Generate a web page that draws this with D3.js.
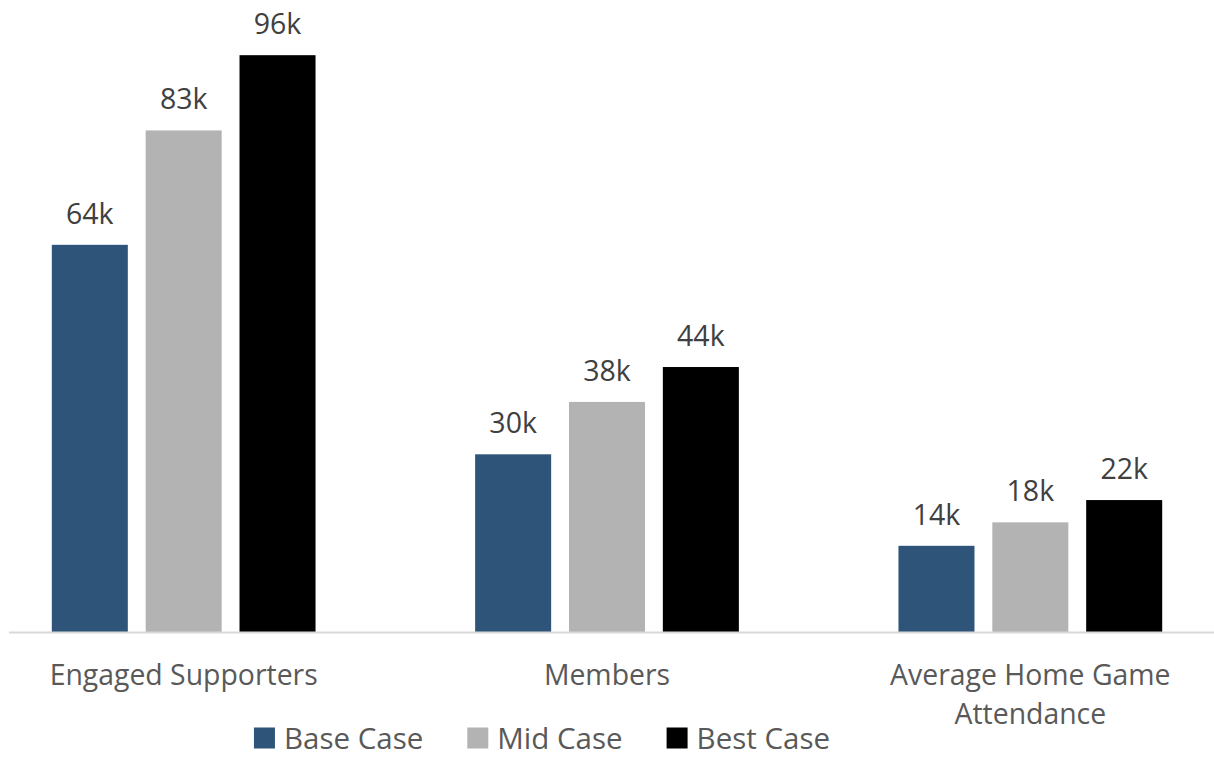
<!DOCTYPE html>
<html>
<head>
<meta charset="utf-8">
<script src="https://cdn.jsdelivr.net/npm/d3@7"></script>
<style>
  body { margin: 0; background: #fff; }
  text { font-family: "Open Sans", sans-serif; }
</style>
</head>
<body>
<div id="chart"></div>
<script>
// Data
const categories = ["Engaged Supporters", "Members", "Average Home Game Attendance"];
const seriesNames = ["Base Case", "Mid Case", "Best Case"];
const baseCase = [64.4, 29.6, 14.4];
const midCase = [83.4, 38.3, 18.3];
const bestCase = [95.9, 44.1, 22.0];
const colors = ["#2f5479", "#b3b3b3", "#000000"];

const seriesValues = [baseCase, midCase, bestCase];
const rows = categories.map((c, i) => ({
    category: c,
    values: seriesNames.map((s, j) => ({ series: s, value: seriesValues[j][i] }))
}));

const width = 1214;
const height = 757;
const baseline = 632.5;

const svg = d3.select("#chart")
    .append("svg")
    .attr("width", width)
    .attr("height", height);

// Scales
const x0 = d3.scaleBand()
    .domain(categories)
    .range([-28, 1242])
    .paddingInner(0.377)
    .paddingOuter(0.1885);

const x1 = d3.scaleBand()
    .domain(seriesNames)
    .range([0, x0.bandwidth()])
    .paddingInner(0.19);

const y = d3.scaleLinear()
    .domain([0, 100])
    .range([baseline, baseline - 602]);

const color = d3.scaleOrdinal().domain(seriesNames).range(colors);

// Bars
const groups = svg.selectAll("g.group")
    .data(rows)
    .join("g")
    .attr("class", "group")
    .attr("transform", d => `translate(${x0(d.category)},0)`);

groups.selectAll("rect")
    .data(d => d.values)
    .join("rect")
    .attr("x", d => x1(d.series))
    .attr("y", d => y(d.value))
    .attr("width", x1.bandwidth())
    .attr("height", d => y(0) - y(d.value))
    .attr("fill", d => color(d.series));

// Value labels
groups.selectAll("text.value")
    .data(d => d.values)
    .join("text")
    .attr("class", "value")
    .attr("x", d => x1(d.series) + x1.bandwidth() / 2)
    .attr("y", d => y(d.value) - 21)
    .attr("text-anchor", "middle")
    .attr("font-size", 28.5)
    .attr("fill", "#404040")
    .text(d => `${Math.round(d.value)}k`);

// X axis
const xAxis = svg.append("g")
    .attr("transform", `translate(0,${baseline})`)
    .call(d3.axisBottom(x0).tickSize(0).tickPadding(32));

xAxis.select(".domain").remove();
xAxis.append("line")
    .attr("x1", 9)
    .attr("x2", width)
    .attr("stroke", "#d9d9d9")
    .attr("stroke-width", 2);

xAxis.selectAll(".tick text")
    .attr("font-size", 28.4)
    .attr("font-family", "'Open Sans', sans-serif")
    .attr("fill", "#595959")
    .call(wrap, 330);

function wrap(texts, maxWidth) {
    texts.each(function () {
        const text = d3.select(this);
        const words = text.text().split(/\s+/);
        const yPos = text.attr("y");
        text.text(null);
        let line = [];
        let lineNo = 0;
        let tspan = text.append("tspan").attr("x", 0).attr("y", yPos).attr("dy", "0.71em");
        words.forEach(w => {
            line.push(w);
            tspan.text(line.join(" "));
            if (tspan.node().getComputedTextLength() > maxWidth && line.length > 1) {
                line.pop();
                tspan.text(line.join(" "));
                line = [w];
                lineNo++;
                tspan = text.append("tspan").attr("x", 0).attr("y", yPos)
                    .attr("dy", (0.71 + lineNo * 1.38) + "em").text(w);
            }
        });
    });
}

// Legend
const legend = svg.append("g");
const items = legend.selectAll("g")
    .data(seriesNames)
    .join("g");

items.append("rect")
    .attr("y", -10.5)
    .attr("width", 21)
    .attr("height", 21)
    .attr("fill", d => color(d));

items.append("text")
    .attr("x", 30)
    .attr("dy", "0.36em")
    .attr("font-size", 29.5)
    .attr("fill", "#595959")
    .text(d => d);

let offset = 0;
items.each(function () {
    const g = d3.select(this);
    g.attr("transform", `translate(${offset},0)`);
    offset += 30 + g.select("text").node().getComputedTextLength() + 44;
});
const legendWidth = offset - 44;
legend.attr("transform", `translate(${542 - legendWidth / 2},738)`);
</script>
</body>
</html>
